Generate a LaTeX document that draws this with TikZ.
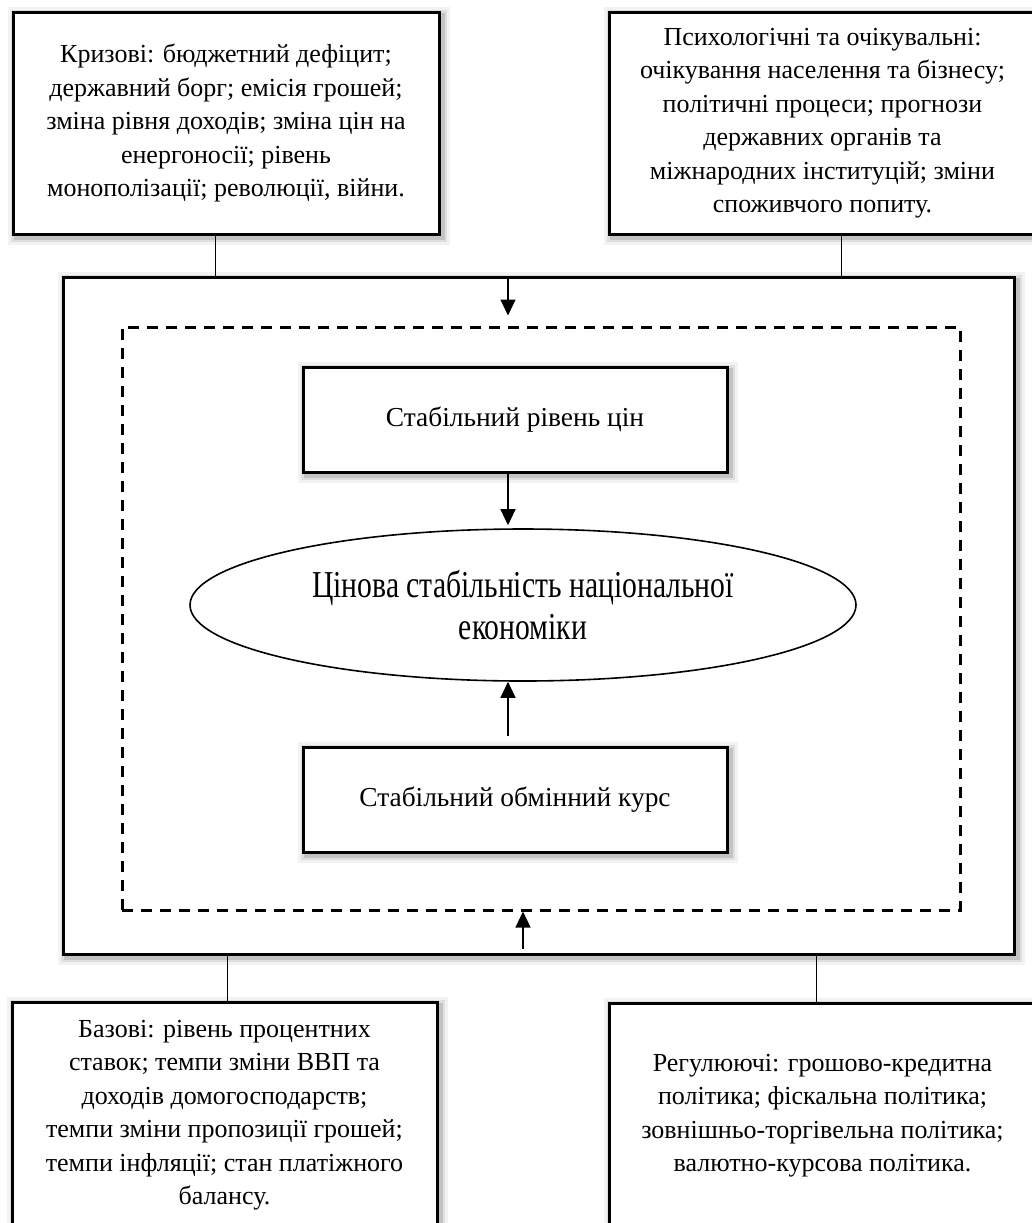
\documentclass[tikz,border=0pt]{standalone}
\usepackage{fontspec}
\usepackage{graphicx}
\setmainfont{Liberation Serif}
\usetikzlibrary{shapes.geometric,arrows.meta,calc}
\newcommand\boxfont{\fontsize{13pt}{16.75pt}\selectfont}
\newcommand\innerfont{\fontsize{13.7pt}{16.75pt}\selectfont}
\newcommand\ellfont{\fontsize{19pt}{21pt}\selectfont}
\newcommand\cond[1]{\scalebox{0.78}[1]{#1}}
\tikzset{
  softshadow/.style={
    preaction={draw=black, draw opacity=0.05, line width=8pt, transform canvas={shift={(1.5pt,-1.5pt)}}},
    preaction={draw=black, draw opacity=0.08, line width=5pt, transform canvas={shift={(1.5pt,-1.5pt)}}},
    preaction={draw=black, draw opacity=0.12, line width=2.5pt, transform canvas={shift={(1.5pt,-1.5pt)}}}},
  box/.style={rectangle, draw, line width=1.5pt, fill=white, inner sep=0pt, align=center, softshadow, font=\boxfont},
  dashbox/.style={rectangle, draw, line width=1.5pt, dash pattern=on 5.5pt off 4pt, inner sep=0pt},
  ellbox/.style={ellipse, draw, line width=0.8pt, fill=white, inner sep=0pt, align=center, font=\ellfont},
  conn/.style={line width=0.5pt},
  arr/.style={line width=0.6pt, -{Triangle[width=7.5pt,length=8pt]}},
}
\begin{document}
\begin{tikzpicture}[x=0.5pt,y=-0.5pt]
\useasboundingbox (0,0) rectangle (1032,1223);
\clip (0,0) rectangle (1032,1223);
\fill[white] (0,0) rectangle (1032,1223);

% x positions of connectors
\coordinate (xa) at (215,0);
\coordinate (xb) at (841,0);
\coordinate (xc) at (227,0);
\coordinate (xd) at (816,0);
\coordinate (xe) at (508,0);
\coordinate (xf) at (523,0);

\node[box, minimum width=475.5pt, minimum height=338.5pt] (outer) at (538.5,615.5) {};
\node[dashbox, minimum width=419pt, minimum height=291.5pt] (dash) at (541,618.5) {};

\node[box, font=\innerfont, minimum width=212pt, minimum height=52.5pt] (ib1) at (515,419.5) {Стабільний рівень цін};
\node[box, font=\innerfont, minimum width=212pt, minimum height=52.5pt] (ib2) at (515,799.5) {Стабільний обмінний курс};
\node[ellbox, minimum width=333pt, minimum height=76pt] (ell) at (523,605)
  {\cond{Цінова стабільність національної}\\\cond{економіки}};

\node[box, minimum width=213pt, minimum height=111pt] (tl) at (226,123)
  {Кризові: бюджетний дефіцит;\\державний борг; емісія грошей;\\зміна рівня доходів; зміна цін на\\енергоносії; рівень\\монополізації; революції, війни.};
\node[box, minimum width=213.5pt, minimum height=111pt] (tr) at (822.5,123)
  {Психологічні та очікувальні:\\очікування населення та бізнесу;\\політичні процеси; прогнози\\державних органів та\\міжнародних інституцій; зміни\\споживчого попиту.};
\node[box, minimum width=212.5pt, minimum height=113pt] (bl) at (224.5,1115)
  {Базові: рівень процентних\\ставок; темпи зміни ВВП та\\доходів домогосподарств;\\темпи зміни пропозиції грошей;\\темпи інфляції; стан платіжного\\балансу.};
\node[box, minimum width=213.5pt, minimum height=112.5pt] (br) at (822.5,1115.5)
  {Регулюючі: грошово-кредитна\\політика; фіскальна політика;\\зовнішньо-торгівельна політика;\\валютно-курсова політика.};

% connectors
\draw[conn] (tl.south -| xa) -- (outer.north -| xa);
\draw[conn] (tr.south -| xb) -- (outer.north -| xb);
\draw[conn] (outer.south -| xc) -- (bl.north -| xc);
\draw[conn] (outer.south -| xd) -- (br.north -| xd);

% arrows
\draw[arr, shorten >=5pt] (outer.north -| xe) -- (dash.north -| xe);
\draw[arr, shorten >=1.5pt] (ib1.south -| xe) -- (ell.north -| xe);
\draw[arr, shorten <=5pt] (ib2.north -| xe) -- (ell.south -| xe);
\draw[arr, shorten <=3.5pt] (outer.south -| xf) -- (dash.south -| xf);
\end{tikzpicture}
\end{document}
